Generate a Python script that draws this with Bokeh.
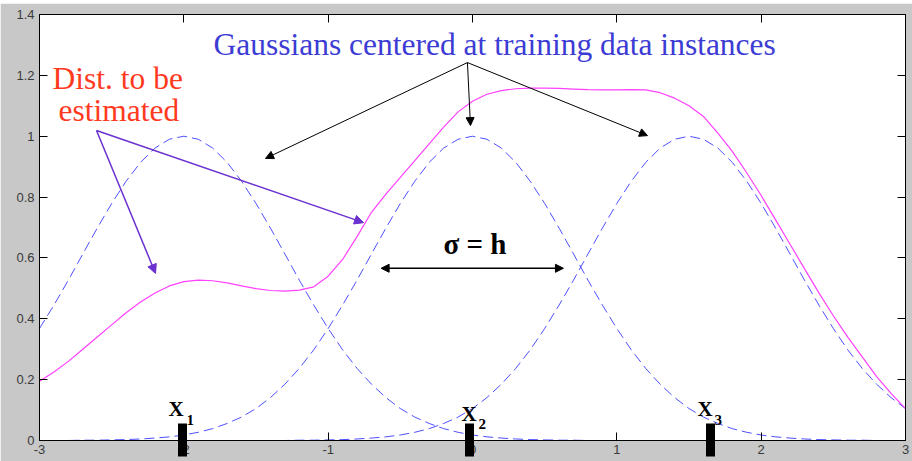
from bokeh.plotting import figure
from bokeh.models import (Range1d, LinearAxis, FixedTicker, Label, Arrow,
                          NormalHead, Spacer)
from bokeh.layouts import column
from bokeh.embed import file_html
from bokeh.resources import INLINE

# sampling grid for the curves (step 0.1)
gx = [round(-3 + 0.1 * i, 1) for i in range(61)]

# Gaussian kernel centred at x = -2
gauss_a = [0.368, 0.445, 0.527, 0.613, 0.698, 0.779, 0.852, 0.914, 0.961, 0.990,
           1.0,
           0.990, 0.961, 0.914, 0.852, 0.779, 0.698, 0.613, 0.527, 0.445, 0.368,
           0.298, 0.237, 0.185, 0.141, 0.105, 0.077, 0.056, 0.039, 0.027, 0.018,
           0.012, 0.008, 0.005, 0.003, 0.002, 0.001, 0.001,
           0, 0, 0, 0, 0, 0, 0, 0, 0, 0, 0, 0, 0, 0, 0, 0, 0, 0, 0, 0, 0, 0, 0]

# Gaussian kernel centred at x = 0
gauss_b = [0, 0, 0, 0.001, 0.001, 0.002, 0.003, 0.005, 0.008, 0.012,
           0.018, 0.027, 0.039, 0.056, 0.077, 0.105, 0.141, 0.185, 0.237, 0.298,
           0.368, 0.445, 0.527, 0.613, 0.698, 0.779, 0.852, 0.914, 0.961, 0.990,
           1.0,
           0.990, 0.961, 0.914, 0.852, 0.779, 0.698, 0.613, 0.527, 0.445, 0.368,
           0.298, 0.237, 0.185, 0.141, 0.105, 0.077, 0.056, 0.039, 0.027, 0.018,
           0.012, 0.008, 0.005, 0.003, 0.002, 0.001, 0.001, 0, 0, 0]

# Gaussian kernel centred at x = 1.5
gauss_c = [0, 0, 0, 0, 0, 0, 0, 0, 0, 0, 0, 0, 0, 0, 0, 0, 0, 0,
           0.001, 0.001, 0.002, 0.003, 0.005, 0.008, 0.012, 0.018, 0.027, 0.039,
           0.056, 0.077, 0.105, 0.141, 0.185, 0.237, 0.298, 0.368, 0.445, 0.527,
           0.613, 0.698, 0.779, 0.852, 0.914, 0.961, 0.990, 1.0, 0.990, 0.961,
           0.914, 0.852, 0.779, 0.698, 0.613, 0.527, 0.445, 0.368, 0.298, 0.237,
           0.185, 0.141, 0.105]

# the distribution to be estimated, on the same grid
dist_y = [0.195, 0.225, 0.26, 0.30, 0.34, 0.38, 0.42, 0.455, 0.485, 0.508,
          0.522, 0.527, 0.525, 0.518, 0.508, 0.499, 0.493, 0.491, 0.494, 0.505,
          0.54, 0.595, 0.67, 0.75, 0.81, 0.865, 0.92, 0.975, 1.03, 1.08,
          1.115, 1.138, 1.15, 1.156, 1.158, 1.158, 1.157, 1.155, 1.153, 1.152,
          1.152, 1.153, 1.152, 1.143, 1.125, 1.10, 1.065, 1.01, 0.95, 0.88,
          0.805, 0.725, 0.645, 0.565, 0.485, 0.41, 0.34, 0.275, 0.21, 0.155,
          0.105]

# training data instances
instances = [-2.01, -0.02, 1.65]
instance_names = ["1", "2", "3"]

xticks = [-3, -2, -1, 0, 1, 2, 3]
xtick_labels = ["-3", "-2", "-1", "0", "1", "2", "3"]
yticks = [0, 0.2, 0.4, 0.6, 0.8, 1, 1.2, 1.4]
ytick_labels = ["0", "0.2", "0.4", "0.6", "0.8", "1", "1.2", "1.4"]

SERIF = "Liberation Serif"
SANS = "Liberation Sans"
BG = "#c8c8c8"

p = figure(width=912, height=458, output_backend="svg", toolbar_location=None,
           x_range=Range1d(-3, 3), y_range=Range1d(0, 1.4),
           min_border_left=39, min_border_right=7, min_border_top=11,
           min_border_bottom=21, x_axis_location=None, y_axis_location=None)
p.border_fill_color = BG
p.background_fill_color = "white"
p.outline_line_color = "black"
p.xgrid.visible = False
p.ygrid.visible = False


def hide_labels(ax):
    ax.major_label_text_font_size = "0px"
    ax.major_label_text_color = None
    ax.major_label_standoff = 0


def style_axis(ax, ticks, labels, show_labels):
    ax.ticker = FixedTicker(ticks=ticks)
    ax.minor_tick_line_color = None
    ax.major_tick_in = 8
    ax.major_tick_out = 0
    ax.major_tick_line_color = "black"
    ax.axis_line_color = "black"
    if show_labels:
        ax.major_label_overrides = dict(zip(ticks, labels))
        ax.major_label_text_font = SANS
        ax.major_label_text_font_size = "13px"
        ax.major_label_text_color = "#3a3a3a"
    else:
        hide_labels(ax)


xb = LinearAxis()
style_axis(xb, xticks, xtick_labels, True)
xb.major_label_standoff = 4
p.add_layout(xb, "below")
yl = LinearAxis()
style_axis(yl, yticks, ytick_labels, True)
yl.major_label_standoff = 5
p.add_layout(yl, "left")
xt = LinearAxis()
style_axis(xt, xticks, xtick_labels, False)
p.add_layout(xt, "above")
yr = LinearAxis()
style_axis(yr, yticks, ytick_labels, False)
p.add_layout(yr, "right")

# instance markers: thick ticks of a second bottom axis, stacked under the
# labelled one, reaching up across the x axis into the plot
xi_axis = LinearAxis()
xi_axis.ticker = FixedTicker(ticks=instances)
xi_axis.minor_tick_line_color = None
xi_axis.axis_line_color = None
xi_axis.major_tick_in = 33
xi_axis.major_tick_out = 0
xi_axis.major_tick_line_width = 9
xi_axis.major_tick_line_color = "black"
hide_labels(xi_axis)
p.add_layout(xi_axis, "below")

# kernels
for g in (gauss_a, gauss_b, gauss_c):
    p.line(gx, g, line_color="#3c3cff", line_width=1, line_dash="10 5",
           line_alpha=0.9)

# target distribution
p.line(gx, dist_y, line_color="#ff40ff", line_width=1.2)

# instance labels X_i
x_left = [-2.106, -0.076, 1.559]
sub_left = [-1.982, 0.042, 1.677]
x_base = [0.103, 0.087, 0.103]
sub_base = [0.069, 0.053, 0.069]
for i, name in enumerate(instance_names):
    p.add_layout(Label(x=x_left[i], y=x_base[i], text="X", text_font=SERIF,
                       text_font_style="bold", text_font_size="21px",
                       text_color="black", text_baseline="alphabetic"))
    p.add_layout(Label(x=sub_left[i], y=sub_base[i], text=name, text_font=SERIF,
                       text_font_style="bold", text_font_size="15px",
                       text_color="black", text_baseline="alphabetic"))

# captions
p.add_layout(Label(x=-1.795, y=1.300, text="Gaussians centered at training data instances",
                   text_font=SERIF, text_font_size="31.5px", text_color="#3c3cd4",
                   text_baseline="alphabetic"))
p.add_layout(Label(x=-2.91, y=1.189, text="Dist. to be", text_font=SERIF,
                   text_font_size="31.5px", text_color="#ff3a1e",
                   text_baseline="alphabetic"))
p.add_layout(Label(x=-2.868, y=1.084, text="estimated", text_font=SERIF,
                   text_font_size="31.5px", text_color="#ff3a1e",
                   text_baseline="alphabetic"))
p.add_layout(Label(x=-0.201, y=0.645, text="\u03c3 = h", text_font=SERIF,
                   text_font_style="bold", text_font_size="29px",
                   text_color="black", text_baseline="alphabetic"))

# bandwidth arrow
p.add_layout(Arrow(start=NormalHead(size=8, fill_color="black", line_color="black"),
                   end=NormalHead(size=8, fill_color="black", line_color="black"),
                   x_start=-0.633, y_start=0.566, x_end=0.63, y_end=0.566,
                   line_color="black", line_width=1.5))

# arrows from the kernel caption
for ex, ey in [(-1.434, 0.927), (-0.014, 1.035), (1.2125, 1.002)]:
    p.add_layout(Arrow(end=NormalHead(size=8, fill_color="black", line_color="black"),
                       x_start=-0.035, y_start=1.242, x_end=ex, y_end=ey,
                       line_color="black", line_width=1))

# arrows from the distribution caption
for ex, ey in [(-2.196, 0.549), (-0.755, 0.716)]:
    p.add_layout(Arrow(end=NormalHead(size=9, fill_color="#6a30d0", line_color="#6a30d0"),
                       x_start=-2.605, y_start=1.019, x_end=ex, y_end=ey,
                       line_color="#6a30d0", line_width=1.5))

layout = column(Spacer(width=912, height=3), p, spacing=0)
open("out.html", "w").write(file_html(layout, INLINE))
